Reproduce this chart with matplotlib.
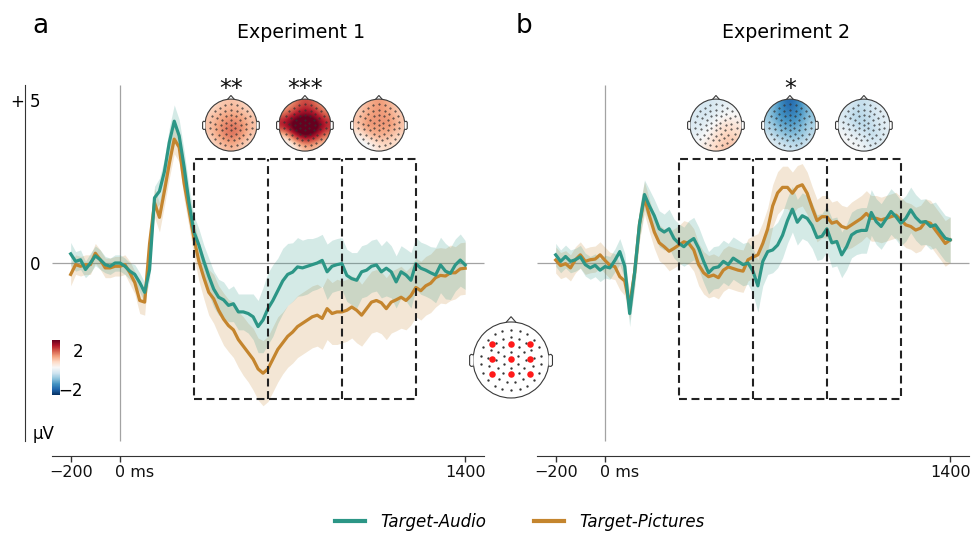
"""ERP waveforms with window topographies, Experiment 1 vs Experiment 2."""

import numpy as np
import matplotlib
matplotlib.use("Agg")
import matplotlib.pyplot as plt
from matplotlib import transforms
from matplotlib.cm import ScalarMappable
from matplotlib.colors import Normalize
from matplotlib.lines import Line2D
from matplotlib.patches import Circle, Polygon, Rectangle

plt.rcParams["font.family"] = ["DejaVu Sans"]

# ---------------------------------------------------------------- data
TIMES = np.arange(-200, 1401, 20)  # ms, sampling of the curves below

EXP1_AUDIO = [
    0.28, 0.05, 0.10, -0.20, 0.00, 0.22, 0.10, -0.05, -0.10, 0.00,      # -200..-20
    0.00, -0.10, -0.25, -0.35, -0.60, -0.90, -0.20, 2.00, 2.20, 2.80,   # 0..180
    3.70, 4.35, 3.90, 2.95, 1.85, 0.95, 0.55, 0.05, -0.40, -0.80,       # 200..380
    -1.05, -1.13, -1.30, -1.25, -1.50, -1.50, -1.55, -1.65, -1.95, -1.75,
    -1.40, -1.15, -0.85, -0.55, -0.35, -0.28, -0.12, -0.15, -0.10, -0.05,
    0.00, 0.08, -0.27, -0.10, -0.05, -0.02, -0.38, -0.48, -0.53, -0.27,
    -0.22, -0.10, -0.06, -0.27, -0.16, -0.27, -0.58, -0.27, -0.37, -0.53,
    -0.02, -0.16, -0.22, -0.30, -0.37, -0.06, -0.25, -0.32, -0.06, 0.09,
    -0.06,
]
EXP1_AUDIO_CI = [
    0.35, 0.30, 0.30, 0.25, 0.30, 0.30, 0.30, 0.25, 0.25, 0.25,
    0.25, 0.25, 0.25, 0.30, 0.30, 0.30, 0.30, 0.35, 0.40, 0.40,
    0.45, 0.50, 0.50, 0.50, 0.50, 0.50, 0.50, 0.50, 0.55, 0.55,
    0.55, 0.55, 0.50, 0.55, 0.55, 0.55, 0.60, 0.70, 0.80, 1.00,
    1.10, 1.10, 1.00, 1.00, 0.95, 0.90, 0.90, 0.85, 0.85, 0.80,
    0.80, 0.80, 0.85, 0.80, 0.80, 0.80, 0.80, 0.80, 0.85, 0.80,
    0.80, 0.80, 0.80, 0.80, 0.85, 0.80, 0.80, 0.80, 0.80, 0.85,
    0.80, 0.80, 0.80, 0.80, 0.85, 0.85, 0.85, 0.80, 0.80, 0.80,
    0.75,
]
EXP1_PICT = [
    -0.35, -0.05, -0.10, -0.05, -0.05, 0.30, 0.10, -0.15, -0.15, -0.10,
    -0.10, -0.05, -0.30, -0.60, -1.15, -1.20, 0.60, 1.85, 1.40, 2.20,
    3.05, 3.80, 3.55, 2.45, 1.60, 0.75, 0.05, -0.45, -0.90, -1.10,
    -1.45, -1.72, -1.92, -2.05, -2.35, -2.55, -2.75, -2.95, -3.25, -3.38,
    -3.25, -2.95, -2.65, -2.45, -2.25, -2.12, -1.95, -1.85, -1.75, -1.65,
    -1.60, -1.70, -1.40, -1.55, -1.50, -1.50, -1.45, -1.35, -1.45, -1.60,
    -1.40, -1.20, -1.15, -1.22, -1.40, -1.20, -1.13, -1.05, -1.15, -1.00,
    -0.75, -0.85, -0.70, -0.62, -0.45, -0.38, -0.40, -0.30, -0.30, -0.18,
    -0.16,
]
EXP1_PICT_CI = [
    0.35, 0.30, 0.30, 0.30, 0.30, 0.30, 0.30, 0.30, 0.30, 0.30,
    0.30, 0.30, 0.35, 0.35, 0.40, 0.40, 0.40, 0.45, 0.45, 0.45,
    0.45, 0.45, 0.45, 0.50, 0.50, 0.55, 0.60, 0.65, 0.70, 0.75,
    0.75, 0.80, 0.80, 0.85, 0.85, 0.90, 0.90, 0.95, 0.95, 1.00,
    1.00, 1.00, 1.00, 0.95, 0.95, 0.95, 0.95, 0.95, 0.95, 0.95,
    0.95, 0.95, 0.95, 0.95, 1.00, 0.95, 0.95, 0.95, 1.00, 0.95,
    0.95, 0.95, 0.95, 0.95, 0.95, 0.95, 0.95, 0.95, 0.90, 0.90,
    0.90, 0.90, 0.90, 0.90, 0.90, 0.85, 0.85, 0.85, 0.80, 0.80,
    0.80,
]
EXP2_AUDIO = [
    0.25, 0.05, 0.20, 0.05, 0.10, 0.19, -0.05, -0.15, -0.07, -0.22,
    -0.11, -0.15, 0.08, 0.35, -0.10, -1.55, -0.30, 1.20, 2.10, 1.75,
    1.45, 1.05, 0.95, 1.05, 0.75, 0.60, 0.50, 0.65, 0.75, 0.45,
    0.05, -0.30, -0.15, -0.12, 0.05, -0.05, 0.15, 0.05, -0.05, 0.00,
    -0.25, -0.70, 0.05, 0.35, 0.40, 0.55, 0.85, 1.30, 1.65, 1.25,
    1.45, 1.37, 1.15, 0.78, 0.82, 1.05, 0.62, 0.66, 0.25, 0.50,
    0.86, 0.96, 1.00, 1.00, 1.55, 1.27, 1.12, 1.35, 1.58, 1.42,
    1.22, 1.37, 1.63, 1.40, 1.25, 1.27, 1.12, 1.17, 0.96, 0.76,
    0.71,
]
EXP2_AUDIO_CI = [
    0.35, 0.35, 0.35, 0.35, 0.35, 0.35, 0.35, 0.35, 0.35, 0.35,
    0.35, 0.35, 0.35, 0.40, 0.40, 0.40, 0.45, 0.45, 0.45, 0.50,
    0.50, 0.55, 0.55, 0.60, 0.60, 0.60, 0.60, 0.65, 0.65, 0.65,
    0.65, 0.65, 0.65, 0.65, 0.65, 0.65, 0.65, 0.65, 0.65, 0.65,
    0.70, 0.80, 0.75, 0.70, 0.70, 0.70, 0.70, 0.70, 0.70, 0.70,
    0.70, 0.70, 0.70, 0.70, 0.70, 0.70, 0.75, 0.75, 0.70, 0.70,
    0.70, 0.70, 0.70, 0.70, 0.70, 0.70, 0.70, 0.70, 0.70, 0.70,
    0.70, 0.70, 0.70, 0.70, 0.70, 0.70, 0.70, 0.70, 0.70, 0.70,
    0.70,
]
EXP2_PICT = [
    0.09, -0.08, -0.02, -0.15, 0.10, 0.25, 0.05, 0.10, 0.12, 0.25,
    0.08, -0.07, -0.11, -0.42, -0.55, -1.30, -0.30, 1.20, 2.00, 1.45,
    0.95, 0.62, 0.50, 0.36, 0.45, 0.55, 0.65, 0.60, 0.40, -0.05,
    -0.30, -0.42, -0.37, -0.45, -0.22, -0.12, -0.17, -0.22, -0.25, 0.10,
    0.18, 0.25, 0.60, 1.05, 1.75, 2.15, 2.32, 2.32, 2.14, 2.34,
    2.40, 2.14, 1.70, 1.30, 1.42, 1.42, 1.22, 1.27, 1.12, 1.07,
    1.17, 1.27, 1.37, 1.52, 1.37, 1.37, 1.32, 1.37, 1.42, 1.47,
    1.32, 1.17, 1.12, 1.01, 1.07, 1.27, 1.22, 1.01, 0.81, 0.60,
    0.71,
]
EXP2_PICT_CI = [
    0.40, 0.40, 0.40, 0.40, 0.40, 0.40, 0.40, 0.40, 0.40, 0.40,
    0.40, 0.40, 0.40, 0.40, 0.45, 0.45, 0.45, 0.50, 0.50, 0.50,
    0.50, 0.55, 0.55, 0.60, 0.60, 0.60, 0.65, 0.65, 0.65, 0.65,
    0.65, 0.65, 0.65, 0.65, 0.65, 0.65, 0.65, 0.65, 0.65, 0.65,
    0.65, 0.65, 0.65, 0.65, 0.65, 0.65, 0.65, 0.65, 0.65, 0.65,
    0.65, 0.65, 0.65, 0.65, 0.65, 0.65, 0.65, 0.65, 0.65, 0.65,
    0.70, 0.70, 0.70, 0.70, 0.70, 0.70, 0.70, 0.70, 0.70, 0.70,
    0.70, 0.70, 0.70, 0.70, 0.70, 0.70, 0.70, 0.70, 0.70, 0.70,
    0.70,
]

WINDOWS = [(300, 600), (600, 900), (900, 1200)]
EXP1_STARS = ["**", "***", ""]
EXP2_STARS = ["", "*", ""]

# topography per window, coarse 5x5 grid (front row first), in µV
EXP1_TOPO_1 = [[0.3, 0.5, 0.6, 0.5, 0.3],
               [0.5, 0.7, 0.8, 0.7, 0.5],
               [0.6, 0.9, 1.1, 1.0, 0.6],
               [0.5, 0.9, 1.2, 0.9, 0.5],
               [0.3, 0.5, 0.7, 0.5, 0.3]]
EXP1_TOPO_2 = [[0.6, 1.0, 1.4, 1.1, 0.6],
               [1.1, 1.6, 1.9, 1.7, 1.1],
               [1.8, 2.4, 2.6, 2.4, 1.6],
               [0.4, 1.6, 2.2, 1.8, 1.0],
               [-0.4, 0.1, 0.7, 0.6, 0.3]]
EXP1_TOPO_3 = [[0.4, 0.7, 0.9, 0.7, 0.4],
               [0.5, 0.8, 0.9, 0.8, 0.5],
               [0.6, 1.0, 0.8, 1.0, 0.6],
               [0.1, 0.6, 0.8, 0.6, 0.4],
               [-0.3, -0.1, 0.3, 0.4, 0.2]]
EXP2_TOPO_1 = [[-0.2, -0.4, -0.3, -0.2, -0.1],
               [-0.3, -0.4, -0.2, 0.0, 0.0],
               [-0.3, -0.2, 0.1, 0.4, 0.2],
               [-0.2, 0.0, 0.3, 0.5, 0.4],
               [0.0, 0.2, 0.4, 0.6, 0.5]]
EXP2_TOPO_2 = [[-0.7, -1.2, -1.7, -1.2, -0.7],
               [-0.8, -1.2, -1.4, -1.2, -0.8],
               [-0.6, -1.0, -1.1, -1.0, -0.6],
               [-0.4, -0.7, -0.9, -0.8, -0.5],
               [-0.1, -0.3, -0.4, -0.5, -0.2]]
EXP2_TOPO_3 = [[-0.2, -0.4, -0.5, -0.3, -0.1],
               [-0.3, -0.6, -0.5, -0.4, -0.2],
               [-0.2, -0.5, -0.6, -0.4, -0.2],
               [0.0, -0.2, -0.3, -0.6, -0.2],
               [0.0, 0.0, -0.1, -0.3, -0.1]]

# region-of-interest electrodes (head units, nose up)
ROI_X = [-0.49, 0.0, 0.49, -0.49, 0.0, 0.49, -0.49, 0.0, 0.49]
ROI_Y = [0.42, 0.42, 0.42, 0.03, 0.03, 0.03, -0.37, -0.37, -0.37]

AUDIO_COLOR = "#2C9686"
PICT_COLOR = "#C4852E"

# ---------------------------------------------------------------- layout
FIG_W, FIG_H = 971, 535
X_SCALE = 0.24656   # px per ms
Y_SCALE = 32.6      # px per µV
XLIM = (-400, 1500)
YLIM = (-6.5, 5.8)
BOX_Y = (-4.17, 3.2)


def axes_rect(x0_px, y0_px):
    left = x0_px + XLIM[0] * X_SCALE
    bottom = y0_px - YLIM[0] * Y_SCALE
    width = (XLIM[1] - XLIM[0]) * X_SCALE
    height = (YLIM[1] - YLIM[0]) * Y_SCALE
    return [left / FIG_W, 1 - bottom / FIG_H, width / FIG_W, height / FIG_H]


def electrode_layout():
    pts = [(0.0, 0.0)]
    for radius, count in [(0.2, 6), (0.4, 12), (0.6, 17), (0.8, 22)]:
        ang = np.linspace(0, 2 * np.pi, count, endpoint=False) + np.pi / 2
        pts += list(zip(radius * np.cos(ang), radius * np.sin(ang)))
    return np.array(pts)


ELECTRODES = electrode_layout()


def head_axes(ax, center, radius_px, lim):
    half = lim * radius_px
    hx, hy = half / X_SCALE, half / Y_SCALE
    hax = ax.inset_axes([center[0] - hx, center[1] - hy, 2 * hx, 2 * hy],
                        transform=ax.transData, zorder=6)
    hax.set_xlim(-lim, lim)
    hax.set_ylim(-lim, lim)
    hax.set_aspect("equal")
    hax.set_axis_off()
    return hax


def draw_head(hax, grid=None, dot_size=0.45):
    if grid is not None:
        im = hax.imshow(grid, extent=(-1, 1, -1, 1), origin="upper", cmap="RdBu_r",
                        vmin=-2, vmax=2, interpolation="bicubic", zorder=1)
        im.set_clip_path(Circle((0, 0), 1, transform=hax.transData))
    edge = "#3a3a3a"
    hax.add_patch(Circle((0, 0), 1, fill=False, ec=edge, lw=0.8, zorder=3))
    hax.add_patch(Polygon([(-0.13, 0.99), (0, 1.14), (0.13, 0.99)], closed=False,
                          fill=False, ec=edge, lw=0.8, zorder=3))
    for s in (-1, 1):
        ear = [(s * 0.99, 0.13), (s * 1.05, 0.15), (s * 1.09, 0.11), (s * 1.09, -0.13),
               (s * 1.05, -0.17), (s * 0.99, -0.16)]
        hax.add_patch(Polygon(ear, closed=False, fc="white", ec=edge, lw=0.8, zorder=3))
    hax.plot(ELECTRODES[:, 0], ELECTRODES[:, 1], ls="none", marker="o",
             ms=dot_size, color="#333333", zorder=4)


def make_panel(fig, origin_px):
    ax = fig.add_axes(axes_rect(*origin_px))
    ax.set_xlim(*XLIM)
    ax.set_ylim(*YLIM)
    ax.patch.set_visible(False)
    for side in ("top", "right", "left"):
        ax.spines[side].set_visible(False)
    ax.spines["bottom"].set_position(("data", -5.92))
    ax.spines["bottom"].set_bounds(-276, 1476)
    ax.spines["bottom"].set_color("#333333")
    ax.set_yticks([])
    ax.set_xticks([-200, 0, 1400])
    ax.set_xticklabels(["\u2212200", "0 ms", "1400"])
    ax.tick_params(axis="x", length=4, width=1, color="#333333", pad=2.5,
                   labelsize=11.5, labelcolor="#111111")
    zero_lbl = ax.get_xticklabels()[1]
    zero_lbl.set_ha("left")
    zero_lbl.set_transform(zero_lbl.get_transform()
                           + transforms.ScaledTranslation(-0.054, 0, fig.dpi_scale_trans))
    ax.vlines(0, -5.45, 5.45, color="#a3a3a3", lw=0.9, zorder=1)
    ax.hlines(0, -276, 1476, color="#a3a3a3", lw=0.9, zorder=1)
    return ax


def draw_erp(ax, audio, audio_ci, pict, pict_ci, stars, topos):
    audio, audio_ci = np.array(audio), np.array(audio_ci)
    pict, pict_ci = np.array(pict), np.array(pict_ci)
    ax.fill_between(TIMES, pict - pict_ci, pict + pict_ci, color=PICT_COLOR,
                    alpha=0.2, lw=0, zorder=2)
    ax.fill_between(TIMES, audio - audio_ci, audio + audio_ci, color=AUDIO_COLOR,
                    alpha=0.2, lw=0, zorder=2)
    ax.plot(TIMES, pict, color=PICT_COLOR, lw=2.3, zorder=3)
    ax.plot(TIMES, audio, color=AUDIO_COLOR, lw=2.3, zorder=4)

    # analysis windows: one dashed outline plus the inner borders
    dash = (0, (3.8, 2.2))
    start, end = WINDOWS[0][0], WINDOWS[-1][1]
    ax.add_patch(Rectangle((start, BOX_Y[0]), end - start, BOX_Y[1] - BOX_Y[0],
                           fill=False, ec="#222222", lw=1.5, ls=dash, zorder=5))
    ax.vlines([t1 for _, t1 in WINDOWS[:-1]], BOX_Y[0], BOX_Y[1], color="#222222",
              lw=1.5, linestyles=[dash], zorder=5)

    for (t0, t1), star, grid in zip(WINDOWS, stars, topos):
        mid = (t0 + t1) / 2
        if star:
            ax.text(mid, 5.13, star, ha="center", va="baseline", fontsize=17,
                    color="#111111")
        draw_head(head_axes(ax, (mid, 4.23), 26, 1.23), grid)


def main():
    fig = plt.figure(figsize=(FIG_W / 100, FIG_H / 100), dpi=100)

    ax_a = make_panel(fig, (120, 263))
    ax_b = make_panel(fig, (605, 263))

    # µV scale bar of panel a
    ax_a.spines["left"].set_visible(True)
    ax_a.spines["left"].set_position(("data", -385))
    ax_a.spines["left"].set_bounds(-5.45, 5.45)
    ax_a.spines["left"].set_color("#333333")
    right_of = transforms.offset_copy(ax_a.transData, fig=fig, x=5, units="dots")
    left_of = transforms.offset_copy(ax_a.transData, fig=fig, x=-8, units="dots")
    ax_a.text(-385, 5, "5", transform=right_of, ha="left", va="center_baseline", fontsize=12)
    ax_a.text(-385, 0, "0", transform=right_of, ha="left", va="center_baseline", fontsize=12)
    ax_a.text(-385, 5, "+", transform=left_of, ha="center", va="center_baseline", fontsize=12)
    ax_a.text(-385, -5.18, "\u00b5V", transform=transforms.offset_copy(
        ax_a.transData, fig=fig, x=8, units="dots"), ha="left", va="center_baseline",
        fontsize=12)

    draw_erp(ax_a, EXP1_AUDIO, EXP1_AUDIO_CI, EXP1_PICT, EXP1_PICT_CI, EXP1_STARS,
             [EXP1_TOPO_1, EXP1_TOPO_2, EXP1_TOPO_3])
    draw_erp(ax_b, EXP2_AUDIO, EXP2_AUDIO_CI, EXP2_PICT, EXP2_PICT_CI, EXP2_STARS,
             [EXP2_TOPO_1, EXP2_TOPO_2, EXP2_TOPO_3])

    # electrode locator between the panels
    loc = head_axes(ax_a, (1586, -2.975), 38, 1.2)
    draw_head(loc, dot_size=0.7)
    loc.scatter(ROI_X, ROI_Y, s=22, color="#ff1a1a", lw=0, zorder=5)

    # colour scale of the topographies
    cax = fig.add_axes([52 / FIG_W, 1 - 395 / FIG_H, 8 / FIG_W, 55 / FIG_H])
    cb = fig.colorbar(ScalarMappable(Normalize(-2, 2), "RdBu_r"), cax=cax)
    cb.set_ticks([])
    cb.outline.set_visible(False)
    fig.text(83 / FIG_W, 1 - 350 / FIG_H, "2", ha="right", va="center_baseline", fontsize=12)
    fig.text(83 / FIG_W, 1 - 389 / FIG_H, "\u22122", ha="right", va="center_baseline",
             fontsize=12)

    fig.text(32 / FIG_W, 1 - 33 / FIG_H, "a", fontsize=19, va="baseline")
    fig.text(516 / FIG_W, 1 - 33 / FIG_H, "b", fontsize=19, va="baseline")
    fig.text(301 / FIG_W, 1 - 38 / FIG_H, "Experiment 1", ha="center", va="baseline",
             fontsize=13.7)
    fig.text(786 / FIG_W, 1 - 38 / FIG_H, "Experiment 2", ha="center", va="baseline",
             fontsize=13.7)

    handles = [Line2D([], [], color=AUDIO_COLOR, lw=3),
               Line2D([], [], color=PICT_COLOR, lw=3)]
    fig.legend(handles, ["Target-Audio", "Target-Pictures"], loc="center",
               bbox_to_anchor=(520 / FIG_W, 1 - 522 / FIG_H), ncol=2, frameon=False,
               prop={"style": "italic", "size": 12}, handlelength=1.8,
               handletextpad=0.9, columnspacing=2.9)

    fig.savefig("out.png", dpi=100)
    plt.close(fig)


if __name__ == "__main__":
    main()
